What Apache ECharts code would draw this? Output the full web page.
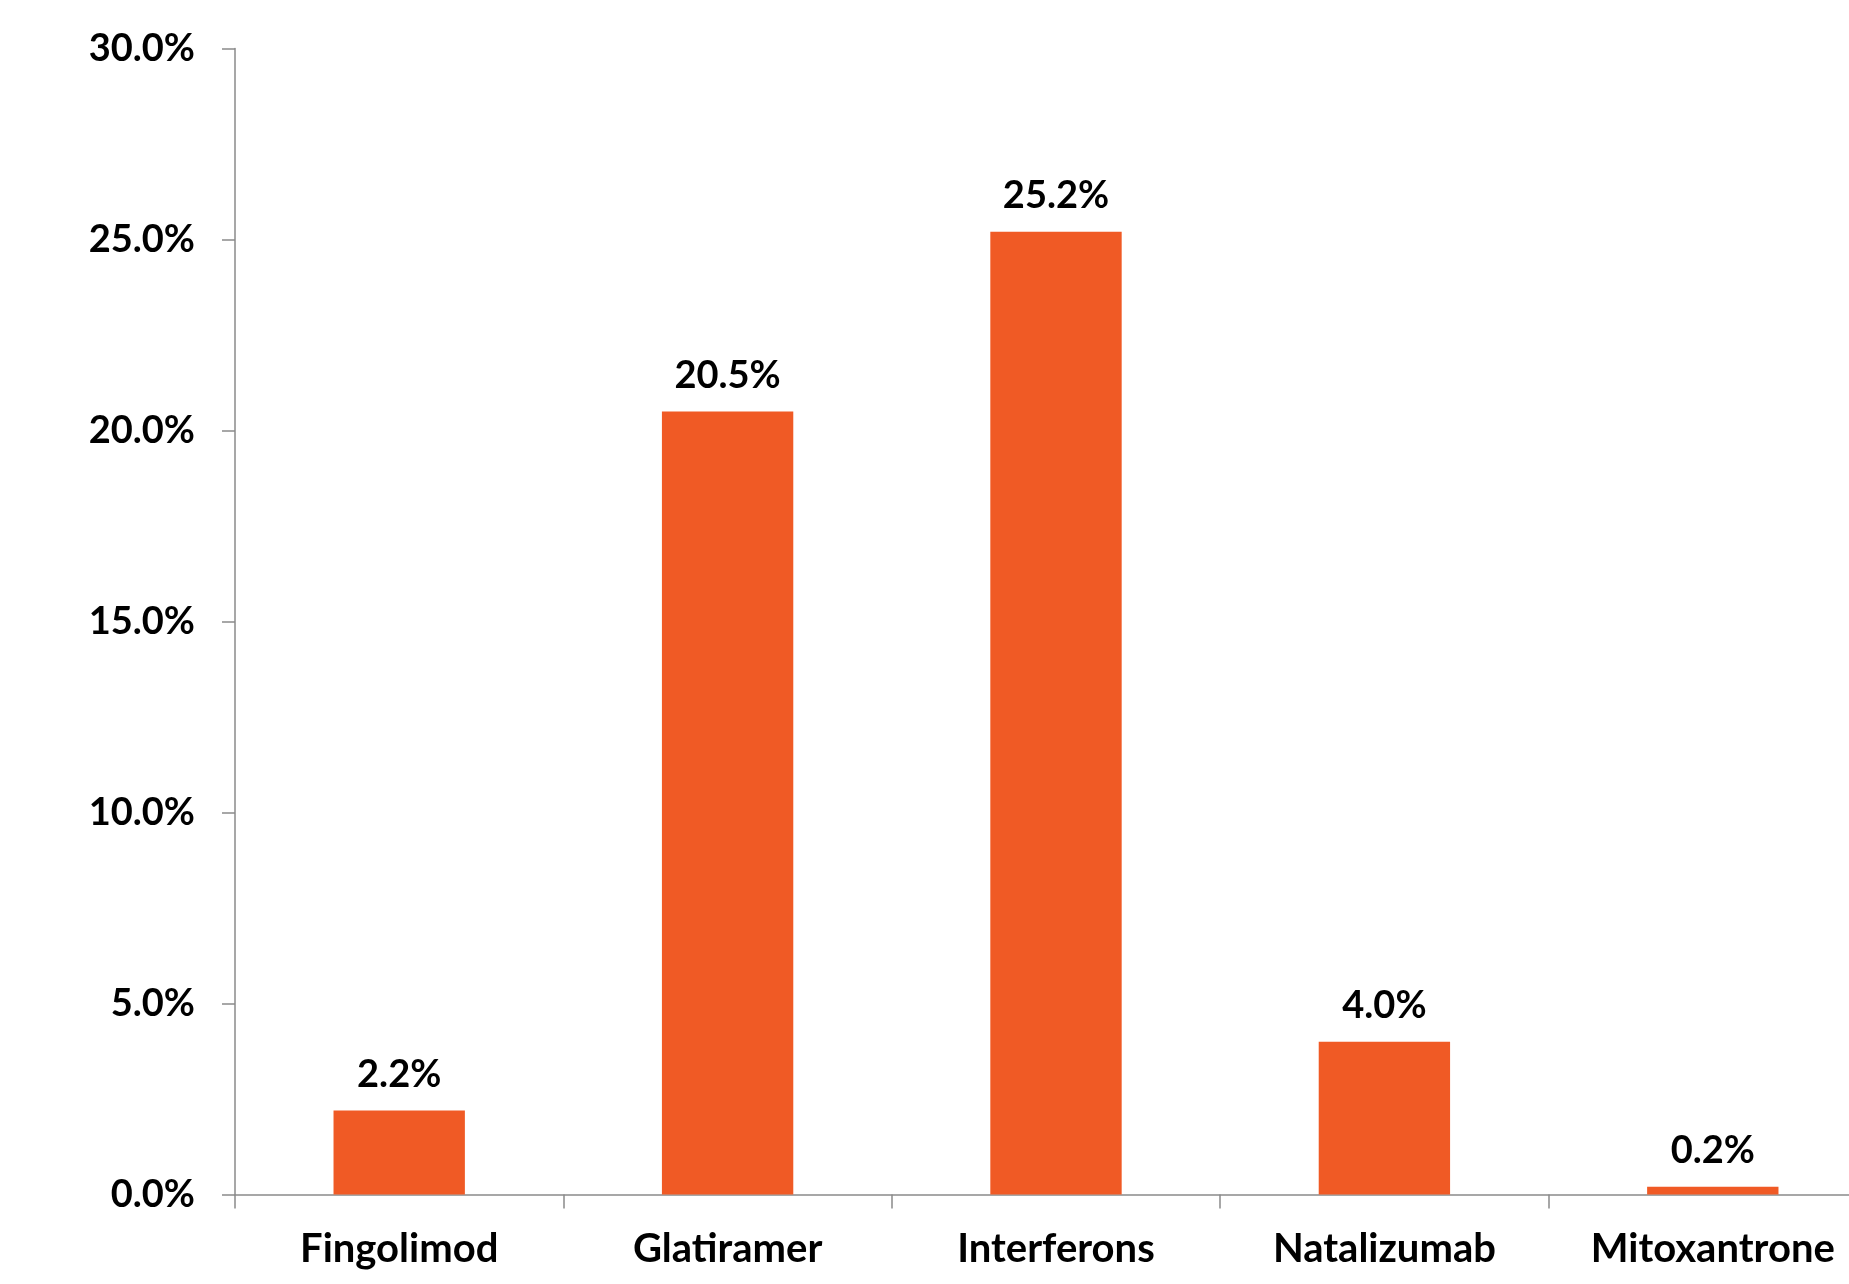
<!DOCTYPE html>
<html><head><meta charset="utf-8">
<script src="https://cdn.jsdelivr.net/npm/echarts@6/dist/echarts.min.js"></script>
<style>html,body{margin:0;padding:0;background:#fff;overflow:hidden;width:1849px;height:1284px}#c{width:1900px;height:1284px}</style>
</head><body><div id="c"></div>
<script>
const categories = ['Fingolimod','Glatiramer','Interferons','Natalizumab','Mitoxantrone'];
const values = [2.2, 20.5, 25.2, 4.0, 0.2];
const yTicks = [0, 5, 10, 15, 20, 25, 30];

const FONT = 'Lato';
const chart = echarts.init(document.getElementById('c'), null, {renderer:'canvas'});
chart.setOption({
  animation:false,
  backgroundColor:'#ffffff',
  grid:{left:235, top:48.5, bottom:89.5, right:23, containLabel:false},
  xAxis:{
    type:'category', data:categories,
    axisLine:{lineStyle:{color:'#8a8a8a', width:1.5}},
    axisTick:{show:true, length:14, alignWithLabel:false, lineStyle:{color:'#8a8a8a', width:1.5}},
    axisLabel:{color:'#000', fontFamily:FONT, fontWeight:'bold', fontSize:40, margin:35, interval:0}
  },
  yAxis:{
    type:'value', min:yTicks[0], max:yTicks[yTicks.length-1], interval:5,
    splitLine:{show:false},
    axisLine:{show:true, lineStyle:{color:'#8a8a8a', width:1.5}},
    axisTick:{show:true, length:13, lineStyle:{color:'#8a8a8a', width:1.5}},
    axisLabel:{color:'#000', fontFamily:FONT, fontWeight:'bold', fontSize:38, margin:40,
      formatter:v=>v.toFixed(1)+'%'}
  },
  series:[{
    type:'bar', data:values, barWidth:'40%',
    itemStyle:{color:'#F05A25'},
    label:{show:true, position:'top', distance:17, color:'#000', fontFamily:FONT, fontWeight:'bold', fontSize:38,
      formatter:p=>p.value.toFixed(1)+'%'}
  }]
});
</script></body></html>
